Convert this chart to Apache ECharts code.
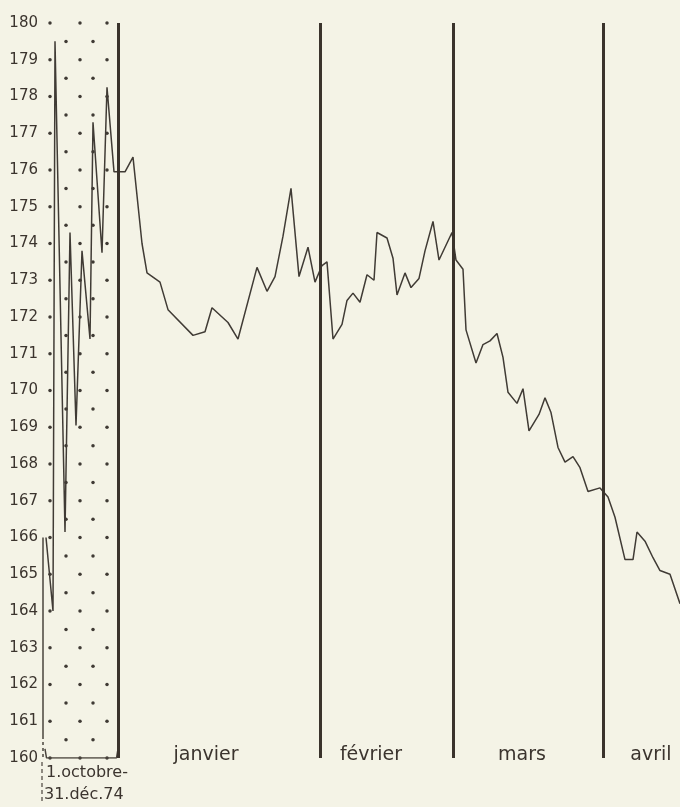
<!DOCTYPE html>
<html>
<head>
<meta charset="utf-8">
<script src="https://cdn.jsdelivr.net/npm/echarts@6/dist/echarts.min.js"></script>
<style>
  html, body { margin: 0; padding: 0; background: #f4f3e6; }
  #chart { width: 680px; height: 807px; }
</style>
</head>
<body>
<div id="chart"></div>
<script>
// position along the time strip (oct-dec block, then months), price level
var xPos = [1, 8, 10, 20, 25, 31, 37, 45, 48, 57, 62, 69,
	80, 88, 97, 102, 115, 123, 148, 160, 167, 183, 193, 212, 222, 230, 238, 246, 254, 263, 270, 277,
	282, 288, 297, 302, 308, 315, 322, 329, 332, 342, 348, 352, 360, 366, 374, 380, 388, 394, 407,
	411, 418, 421, 431, 438, 445, 452, 458, 463, 472, 478, 484, 494, 500, 506, 513, 520, 528, 535, 543, 555,
	563, 570, 580, 588, 592, 600, 608, 615, 625, 635];
var price = [166.0, 164.0, 179.5, 166.15, 174.3, 169.05, 173.8, 171.4, 177.3, 173.75, 178.25, 175.95,
	175.95, 176.35, 174.0, 173.2, 172.95, 172.2, 171.5, 171.6, 172.25, 171.85, 171.4, 173.35, 172.7, 173.1, 174.2, 175.5, 173.1, 173.9, 172.95, 173.4,
	173.5, 171.4, 171.8, 172.45, 172.65, 172.4, 173.15, 173.0, 174.3, 174.15, 173.6, 172.6, 173.2, 172.8, 173.05, 173.8, 174.6, 173.55, 174.3,
	173.55, 173.3, 171.65, 170.75, 171.25, 171.35, 171.55, 170.9, 169.95, 169.65, 170.05, 168.9, 169.35, 169.8, 169.4, 168.45, 168.05, 168.2, 167.9, 167.25, 167.35,
	167.1, 166.55, 165.4, 165.4, 166.15, 165.9, 165.45, 165.1, 165.0, 164.2];

var monthStarts = [73, 275, 408, 558];
var monthNames = ['janvier', 'février', 'mars', 'avril'];
var monthMids = [161, 326, 477, 606];

var yMin = 160, yMax = 180;
var dotColsInt = [5, 35, 62];
var dotColsHalf = [21, 48];

var series = [];
var line = [];
for (var i = 0; i < xPos.length; i++) line.push([xPos[i], price[i]]);

// dotted grid of the oct-dec block
var dots = [];
for (var v = yMin; v <= yMax; v++) {
	dotColsInt.forEach(function (c) { dots.push([c, v]); });
	if (v < yMax) dotColsHalf.forEach(function (c) { dots.push([c, v + 0.5]); });
}

series.push({
	type: 'scatter', data: dots, symbolSize: 3.5, silent: true,
	itemStyle: { color: '#3f3a34', opacity: 1 }
});

// frame of the oct-dec block
series.push({
	type: 'line', data: [[-2, 166], [-2, 160.6]], symbol: 'none', silent: true,
	lineStyle: { color: '#4a443d', width: 1.5 }
});
series.push({
	type: 'line', data: [[-2, 160.6], [-2, 160]], symbol: 'none', silent: true,
	lineStyle: { color: '#4a443d', width: 1.5, type: [3, 3] }
});
series.push({
	type: 'line', data: [[0, 160.25], [1.5, 160], [71.5, 160], [73, 160.25]], symbol: 'none', silent: true,
	lineStyle: { color: '#4a443d', width: 1.5 }
});

series.push({
	type: 'line', data: line, symbol: 'none', silent: true,
	lineStyle: { color: '#403b35', width: 1.5 },
	markLine: {
		silent: true, symbol: 'none', label: { show: false },
		lineStyle: { color: '#3a332c', width: 3, type: 'solid', opacity: 1 },
		data: monthStarts.map(function (m) { return { xAxis: m }; })
	}
});

series.push({
	type: 'scatter', symbolSize: 0, silent: true,
	itemStyle: { opacity: 1 },
	data: monthNames.map(function (n, k) { return [monthMids[k], yMin, n]; }),
	label: {
		show: true, position: 'inside', offset: [0, -3],
		formatter: function (p) { return p.data[2]; },
		color: '#3b342e', opacity: 1, fontSize: 19, fontFamily: 'DejaVu Sans'
	}
});

var chart = echarts.init(document.getElementById('chart'));
chart.setOption({
	backgroundColor: '#f4f3e6',
	animation: false,
	grid: { left: 40, right: 0, top: 23, bottom: 49 },
	xAxis: {
		type: 'value', min: -5, max: 635, show: false
	},
	yAxis: {
		type: 'value', min: yMin, max: yMax, interval: 1,
		axisLine: { show: false }, axisTick: { show: false }, splitLine: { show: false },
		axisLabel: { color: '#3b342e', fontSize: 15, fontFamily: 'DejaVu Sans', margin: 2 }
	},
	graphic: [
		{ type: 'line', shape: { x1: 42, y1: 762, x2: 42, y2: 802 },
			style: { stroke: '#4a443d', lineWidth: 1.2, lineDash: [4, 3] } },
		{ type: 'text', left: 46, top: 765,
			style: { text: '1.octobre-', fill: '#3b342e', font: '16px "DejaVu Sans"' } },
		{ type: 'text', left: 44, top: 787,
			style: { text: '31.déc.74', fill: '#3b342e', font: '16px "DejaVu Sans"' } }
	],
	series: series
});
</script>
</body>
</html>
